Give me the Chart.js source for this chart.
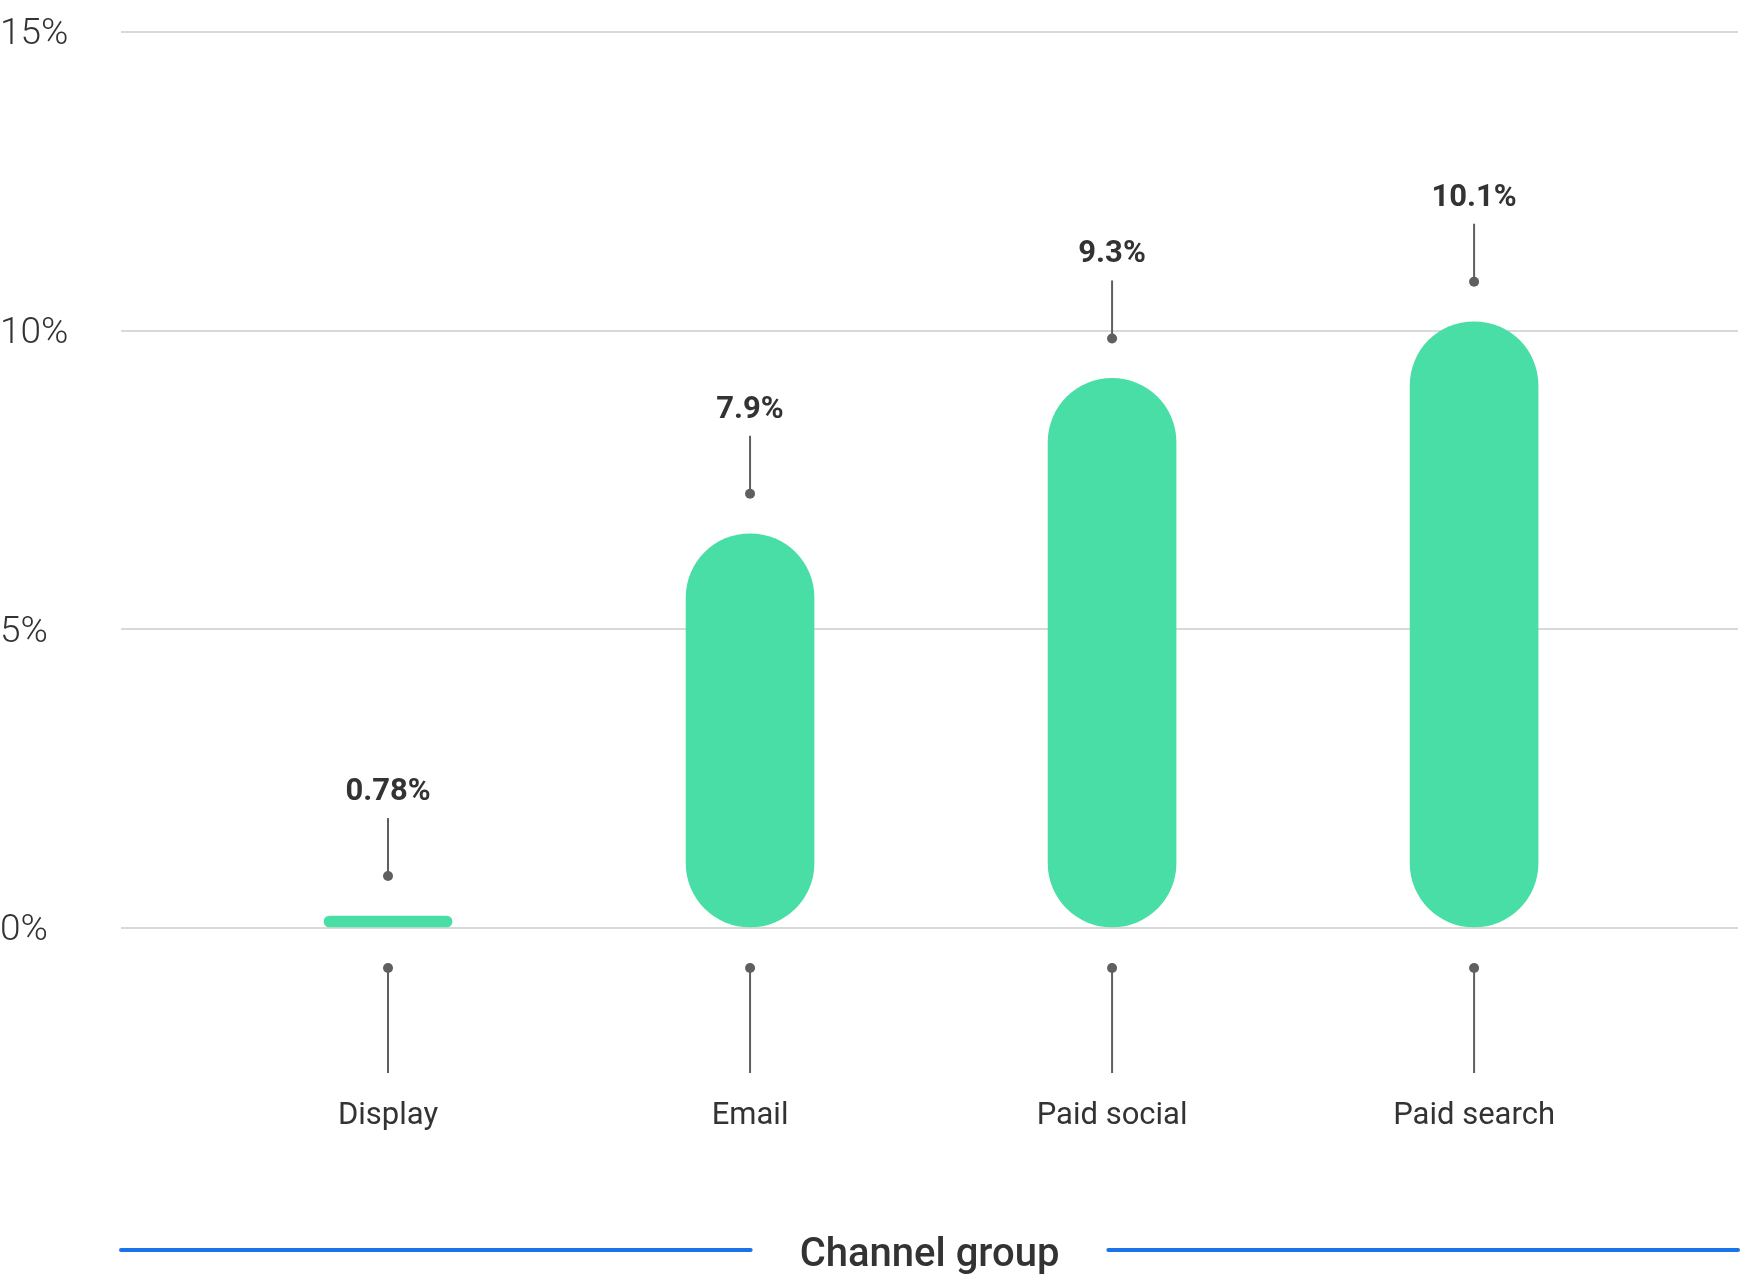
<!DOCTYPE html>
<html>
<head>
<meta charset="utf-8">
<script src="https://cdn.jsdelivr.net/npm/chart.js@4"></script>
<style>
  html, body { margin: 0; padding: 0; background: #fff; }
  #wrap { width: 1740px; height: 1281px; }
</style>
</head>
<body>
<div id="wrap"><canvas id="myChart" width="1740" height="1281"></canvas></div>
<script>
const categories = ["Display", "Email", "Paid social", "Paid search"];
const barValues = [0.2, 6.6, 9.2, 10.15];
const labelValues = [0.78, 7.9, 9.3, 10.1];
const yTicks = [0, 5, 10, 15];
const axisTitle = "Channel group";

const green = "#4ADEA7";
const pinColor = "#5f5f5f";
const textColor = "#333333";
const FONT = "Roboto, 'Noto Sans', sans-serif";

// pins above the bars and under the axis, and the blue rules beside the title
const pins = {
  id: "pins",
  afterDatasetsDraw(chart) {
    const ctx = chart.ctx;
    const meta = chart.getDatasetMeta(0);
    const x = chart.scales.x;
    const bottom = chart.chartArea.bottom;
    ctx.save();
    ctx.strokeStyle = pinColor;
    ctx.fillStyle = pinColor;
    ctx.lineWidth = 2;
    meta.data.forEach((bar, i) => {
      const px = bar.x;
      const dotY = bar.y - 40;
      ctx.beginPath();
      ctx.moveTo(px, dotY);
      ctx.lineTo(px, dotY - 58);
      ctx.stroke();
      ctx.beginPath();
      ctx.arc(px, dotY, 5, 0, Math.PI * 2);
      ctx.fill();

      ctx.save();
      ctx.fillStyle = textColor;
      ctx.font = "bold 31px " + FONT;
      ctx.textAlign = "center";
      ctx.textBaseline = "alphabetic";
      ctx.fillText(labelValues[i] + "%", px, dotY - 58 - 18);
      ctx.restore();

      const bx = x.getPixelForValue(i);
      ctx.beginPath();
      ctx.moveTo(bx, bottom + 40);
      ctx.lineTo(bx, bottom + 145);
      ctx.stroke();
      ctx.beginPath();
      ctx.arc(bx, bottom + 40, 5, 0, Math.PI * 2);
      ctx.fill();
    });
    ctx.restore();
  },
  afterDraw(chart) {
    const ctx = chart.ctx;
    const area = chart.chartArea;
    const cx = (area.left + area.right) / 2;
    ctx.save();
    ctx.font = "500 40px " + FONT;
    const w = ctx.measureText(axisTitle).width;
    const y = 1250;
    ctx.strokeStyle = "#1a73e8";
    ctx.lineWidth = 4;
    ctx.lineCap = "round";
    ctx.beginPath();
    ctx.moveTo(area.left, y);
    ctx.lineTo(cx - w / 2 - 49, y);
    ctx.moveTo(cx + w / 2 + 49, y);
    ctx.lineTo(area.right, y);
    ctx.stroke();
    ctx.restore();
  }
};

new Chart("myChart", {
  type: "bar",
  data: {
    datasets: [{
      data: barValues.map((v, i) => ({ x: i, y: v })),
      backgroundColor: green,
      barThickness: 128,
      borderRadius: 64,
      borderSkipped: false
    }]
  },
  options: {
    responsive: false,
    animation: false,
    devicePixelRatio: 1,
    layout: { padding: { top: 32, right: 2, left: 0, bottom: 0 } },
    plugins: { legend: { display: false }, tooltip: { enabled: false } },
    scales: {
      x: {
        type: "linear",
        offset: false,
        min: -0.7376,
        max: 3.729,
        grid: { display: false, drawTicks: false, offset: false },
        border: { display: false },
        afterBuildTicks(scale) { scale.ticks = categories.map((c, i) => ({ value: i })); },
        afterFit(scale) { scale.height = 353; },
        ticks: {
          autoSkip: false,
          maxRotation: 0,
          padding: 170,
          color: textColor,
          font: { family: FONT, size: 31 },
          callback: (v) => categories[v]
        },
        title: {
          display: true,
          text: axisTitle,
          color: textColor,
          font: { family: FONT, size: 40, weight: "500" },
          padding: { top: 0, bottom: 1 }
        }
      },
      y: {
        min: 0,
        max: 15,
        afterBuildTicks(scale) { scale.ticks = yTicks.map(v => ({ value: v })); },
        afterFit(scale) { scale.width = 121; },
        grid: { color: "#d9d9d9", lineWidth: 2, drawTicks: false },
        border: { display: false },
        ticks: {
          crossAlign: "far",
          labelOffset: 3,
          color: textColor,
          font: { family: FONT, size: 37, weight: "300" },
          callback: (v) => v + "%"
        }
      }
    }
  },
  plugins: [pins]
});
</script>
</body>
</html>
